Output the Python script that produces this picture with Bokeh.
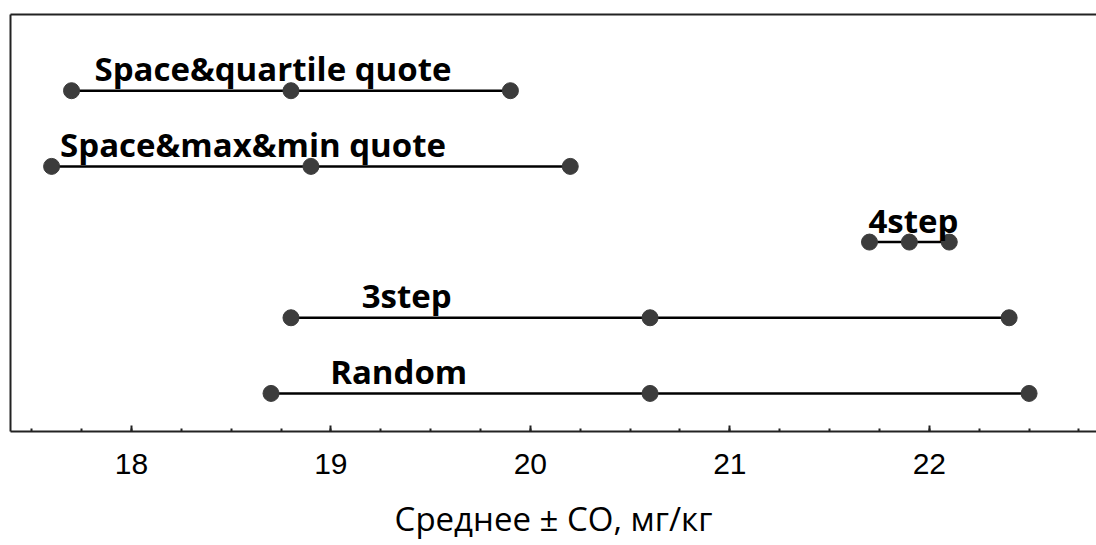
from bokeh.plotting import figure
from bokeh.models import ColumnDataSource, LinearAxis, FixedTicker, Range1d
from bokeh.core.properties import value
from bokeh.embed import file_html
from bokeh.resources import INLINE

groups = ["Space&quartile quote", "Space&max&min quote", "4step", "3step", "Random"]
low = [17.7, 17.6, 21.7, 18.8, 18.7]
mean = [18.8, 18.9, 21.9, 20.6, 20.6]
high = [19.9, 20.2, 22.1, 22.4, 22.5]
row = [5, 4, 3, 2, 1]
label_center = [18.71, 18.61, 21.92, 19.38, 19.34]
x_ticks = [18, 19, 20, 21, 22]

src = ColumnDataSource(dict(group=groups, low=low, mean=mean, high=high,
                            row=row, lx=label_center))

p = figure(width=1096, height=543, output_backend="svg", toolbar_location=None,
           x_range=Range1d(17.394, 22.838), y_range=Range1d(0.497, 6.007),
           min_border_left=10, min_border_right=0, min_border_top=14,
           min_border_bottom=0)
p.outline_line_color = None
p.grid.visible = False
p.background_fill_color = "white"
p.border_fill_color = "white"

p.segment(x0="low", y0="row", x1="high", y1="row", source=src,
          line_color="black", line_width=2.5)
for col in ["low", "mean", "high"]:
    p.scatter(x=col, y="row", source=src, size=16, fill_color="#3c3c3c",
              line_color="#3c3c3c")

p.text(x="lx", y="row", text="group", source=src, text_align="center",
       text_baseline="alphabetic", y_offset=-22,
       text_font=value("Open Sans"), text_font_style="bold",
       text_font_size="33px", text_color="black")

xa = p.xaxis[0]
xa.ticker = FixedTicker(ticks=x_ticks,
                        minor_ticks=[17.5 + 0.25 * i for i in range(22)])
xa.axis_line_width = 2
xa.axis_line_color = "#222222"
xa.major_tick_in = 6
xa.major_tick_out = 0
xa.minor_tick_in = 3
xa.minor_tick_out = 0
xa.major_tick_line_width = 2
xa.minor_tick_line_width = 2
xa.major_tick_line_color = "#222222"
xa.minor_tick_line_color = "#222222"
xa.major_label_text_font = "Liberation Sans"
xa.major_label_text_font_size = "30px"
xa.major_label_text_color = "black"
xa.major_label_standoff = 22
xa.axis_label = "Среднее ± СО, мг/кг"
xa.axis_label_text_font = "Open Sans"
xa.axis_label_text_font_style = "normal"
xa.axis_label_text_font_size = "33px"
xa.axis_label_text_color = "black"
xa.axis_label_standoff = 19

ya = p.yaxis[0]
ya.ticker = FixedTicker(ticks=[], minor_ticks=[])
ya.axis_line_width = 2
ya.axis_line_color = "#222222"
ya.major_tick_in = 0
ya.major_tick_out = 0
ya.minor_tick_in = 0
ya.minor_tick_out = 0
ya.major_label_standoff = 0
ya.axis_label = None

top = LinearAxis(ticker=FixedTicker(ticks=[], minor_ticks=[]),
                 axis_line_width=2, axis_line_color="#222222",
                 major_tick_in=0, major_tick_out=0, minor_tick_in=0,
                 minor_tick_out=0, major_label_standoff=0)
p.add_layout(top, "above")

open("out.html", "w").write(file_html(p, INLINE))
